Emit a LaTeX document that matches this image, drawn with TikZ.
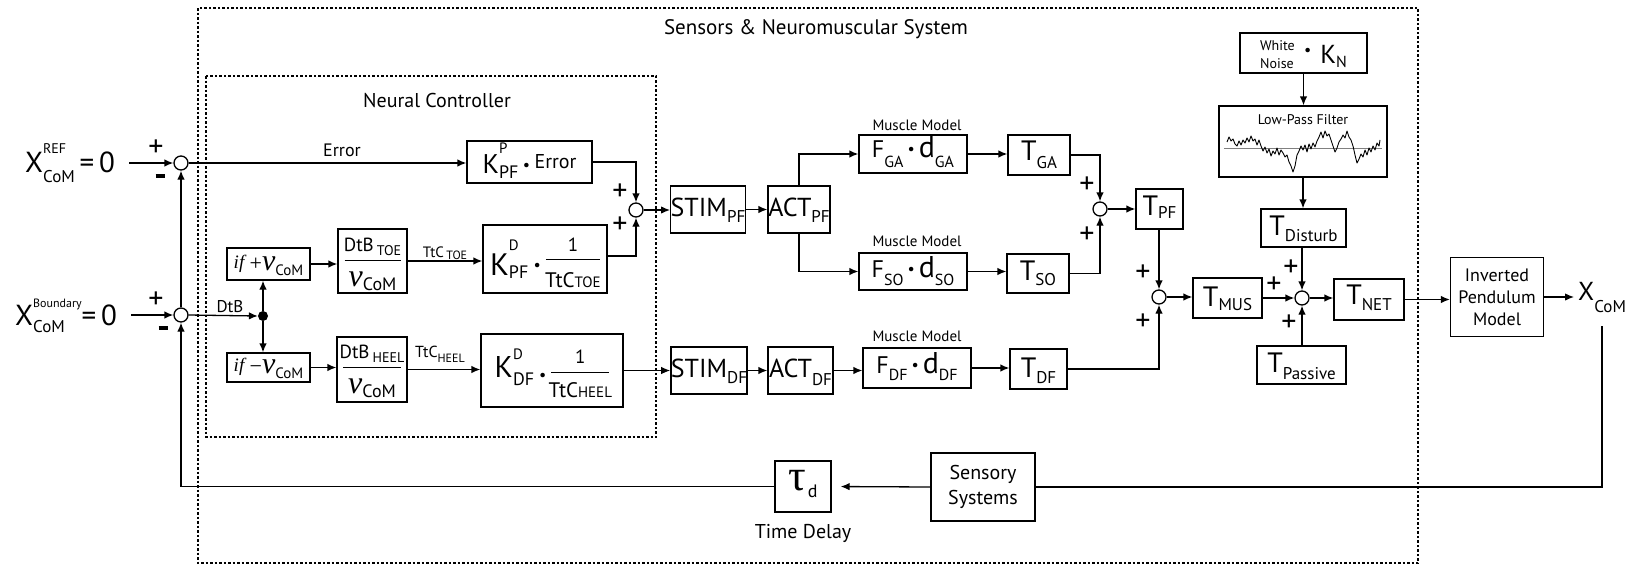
\documentclass[tikz,border=0pt]{standalone}
\usepackage{fontspec}
\setmainfont{PT Sans}
\newfontfamily\vfont{Liberation Serif}
\usetikzlibrary{arrows.meta}
\newcommand{\fs}[1]{\fontsize{#1}{#1}\selectfont}
\newsavebox\supbox
\newsavebox\subbox
% \ks{base}{sup}{sub}{sup raise}{sub drop}
\newcommand{\ks}[5]{#1\sbox\supbox{\raisebox{#4}{#2}}\sbox\subbox{\raisebox{-#5}{#3}}\ifdim\wd\supbox>\wd\subbox\rlap{\usebox\subbox}\usebox\supbox\else\rlap{\usebox\supbox}\usebox\subbox\fi}
\newcommand{\dn}[2]{\raisebox{-#1}{#2}}
% \frbar{width}{num}{den}{num raise}{den raise}{bar raise}
\newcommand{\frbar}[6]{\rlap{\raisebox{#6}{\rule{#1}{1.3pt}}}\rlap{\makebox[#1]{\raisebox{#4}{#2}}}\makebox[#1]{\raisebox{#5}{#3}}}
\newcommand{\bul}[2]{\raisebox{#2}{\fs{#1}\textbullet}}
\tikzset{
  x=1pt, y=-1pt,
  wh/.style 2 args={minimum width=#1pt, minimum height=#2pt},
  blk/.style={draw, line width=1.3pt, inner sep=0pt, text height=0pt, text depth=0pt},
  mblk/.style={draw, line width=1.3pt, inner sep=0pt, align=center},
  sumc/.style={circle, draw, line width=1.3pt, minimum size=14pt, inner sep=0pt},
  arr/.style={line width=1.3pt, -{Latex[length=9pt,width=7.5pt]}},
  ln/.style={line width=1.3pt},
  frame/.style={line width=1.1pt, dash pattern=on 2.5pt off 2pt},
  lbl/.style={inner sep=0pt},
  pm/.style={inner sep=0pt, font=\fs{30}},
}
\begin{document}
\begin{tikzpicture}
\useasboundingbox (0,0) rectangle (1640,565);
% frames
\draw[frame] (198,8) rectangle (1418,563);
\draw[frame] (206,76) rectangle (656,437);
\node[lbl,font=\fs{21}] (title) at (816,29) {Sensors \& Neuromuscular System};
\node[lbl,font=\fs{20}] (nctitle) at (437,100) {Neural Controller};

% inputs
\node[lbl,anchor=base west] (xref) at (25,172) {\fs{29}\ks{X}{\fs{14}REF}{\fs{17}CoM}{19pt}{10pt}\,=\,0};
\node[lbl,anchor=base west] (xbnd) at (15,325) {\fs{29}\ks{X}{\fs{12}Boundary}{\fs{17}CoM}{18pt}{7pt}=\,0};

% summing junctions
\node[sumc] (sum1) at (181,163) {};
\node[sumc] (sum2) at (181,315) {};
\node[sumc] (sum3) at (636,210) {};
\node[sumc] (sum4) at (1100,209) {};
\node[sumc] (sum5) at (1159,297) {};
\node[sumc] (sum6) at (1302,298) {};
\node[circle, fill, inner sep=0pt, minimum size=10pt] (dot) at (263,316) {};

% neural controller blocks
\node[blk,wh={83}{32}] (ifp) at (268.5,264) {\dn{6pt}{\raisebox{2pt}{\vfont\itshape\fs{19}if}\ \ {\vfont\fs{22}+}{\vfont\itshape\fs{30}v}\raisebox{-5pt}{\fs{15}CoM}}};
\node[blk,wh={83}{29}] (ifn) at (268.5,367.5) {\dn{6pt}{\raisebox{2pt}{\vfont\itshape\fs{19}if}\ \ {\vfont\fs{22}\char"2212}{\vfont\itshape\fs{30}v}\raisebox{-5pt}{\fs{15}CoM}}};
\node[blk,wh={69}{64}] (dtoe) at (372.5,261) {\frbar{56pt}{\fs{19}DtB\,\raisebox{-4pt}{\fs{14}TOE}}{{\vfont\itshape\fs{32}v}\raisebox{-4pt}{\fs{18}CoM}}{10pt}{-25pt}{0pt}};
\node[blk,wh={70}{65}] (dheel) at (372,369.5) {\frbar{58pt}{\fs{19}DtB\,\raisebox{-4pt}{\fs{14}HEEL}}{{\vfont\itshape\fs{32}v}\raisebox{-4pt}{\fs{18}CoM}}{11.5pt}{-23.5pt}{1.5pt}};
\node[blk,wh={125}{42}] (kppf) at (529.5,162) {\dn{11pt}{\fs{27}\ks{K}{\fs{15}P}{\fs{18}PF}{20pt}{5pt}\,\bul{16}{3pt}\,\raisebox{5pt}{\fs{20}Error}}};
\node[blk,wh={124}{68}] (kdpf) at (545,259) {\dn{16pt}{\fs{31}\ks{K}{\fs{15}D}{\fs{18}PF}{25pt}{3pt}\,\bul{16}{5pt}\,\frbar{54pt}{\fs{19}1}{\fs{21}TtC\fs{15}TOE}{24pt}{-12pt}{15pt}}};
\node[blk,wh={142}{73}] (kddf) at (552,370.5) {\dn{6.5pt}{\fs{30}\ks{K}{\fs{15}D}{\fs{18}DF}{18pt}{8pt}\,\bul{16}{-3pt}\,\frbar{58pt}{\fs{19}1}{\fs{21}TtC\fs{15}HEEL}{14pt}{-20pt}{4pt}}};

% muscle path
\node[blk,wh={72}{47}] (stimpf) at (708,209.5) {\dn{7pt}{\fs{26}STIM\raisebox{-6pt}{\fs{17}PF}}};
\node[blk,wh={62}{47}] (actpf) at (799,209.5) {\dn{7pt}{\fs{26}ACT\raisebox{-6pt}{\fs{17}PF}}};
\node[blk,wh={72}{47}] (stimdf) at (709,370.5) {\dn{6.5pt}{\fs{26}STIM\raisebox{-6pt}{\fs{17}DF}}};
\node[blk,wh={65}{47}] (actdf) at (800.5,370.5) {\dn{6.5pt}{\fs{26}ACT\raisebox{-8pt}{\fs{17}DF}}};
\node[blk,wh={108}{38}] (fga) at (913,154) {\dn{3pt}{\fs{24}F\raisebox{-10pt}{\fs{16}GA}\,\bul{16}{3pt}\,{\fs{30}d}\raisebox{-10pt}{\fs{16}GA}}};
\node[blk,wh={108}{37}] (fso) at (913,271.5) {\dn{5.5pt}{\fs{24}F\raisebox{-8pt}{\fs{16}SO}\,\bul{16}{3pt}\,{\fs{30}d}\raisebox{-8pt}{\fs{16}SO}}};
\node[blk,wh={108}{40}] (fdf) at (917,368) {\dn{5pt}{\fs{24}F\raisebox{-7pt}{\fs{16}DF}\,\bul{16}{3pt}\,{\fs{30}d}\raisebox{-7pt}{\fs{16}DF}}};
\node[blk,wh={62}{40}] (tga) at (1039,155) {\dn{5pt}{\fs{28}T\raisebox{-8pt}{\fs{17}GA}}};
\node[blk,wh={62}{39}] (tso) at (1038,273.5) {\dn{6.5pt}{\fs{28}T\raisebox{-5pt}{\fs{17}SO}}};
\node[blk,wh={47}{40}] (tpf) at (1159.5,209) {\dn{6pt}{\fs{28}T\raisebox{-3pt}{\fs{17}PF}}};
\node[blk,wh={57}{40}] (tdf) at (1038.5,369) {\dn{8pt}{\fs{28}T\raisebox{-6pt}{\fs{17}DF}}};
\node[blk,wh={69}{40}] (tmus) at (1227.5,298) {\dn{8pt}{\fs{28}T\raisebox{-4pt}{\fs{17}MUS}}};
\node[blk,wh={70}{41}] (tnet) at (1369,299.5) {\dn{4.5pt}{\fs{28}T\raisebox{-6pt}{\fs{17}NET}}};
\node[blk,wh={85}{38}] (tdist) at (1303.5,228) {\dn{7pt}{\fs{28}T\raisebox{-6pt}{\fs{17}Disturb}}};
\node[blk,wh={89}{38}] (tpass) at (1301.5,365) {\dn{7pt}{\fs{28}T\raisebox{-7pt}{\fs{17}Passive}}};

% disturbance
\node[blk,wh={127}{40}] (wn) at (1303.5,53) {{\fs{14}\makebox[37pt][l]{\rlap{\raisebox{3pt}{White}}\raisebox{-15pt}{Noise}}}\hspace{7pt}\bul{16}{-2pt}\hspace{9pt}\raisebox{-10pt}{\fs{26}K\raisebox{-4pt}{\fs{16}N}}};
\node[blk,wh={168}{71}] (lpf) at (1303,141.5) {\raisebox{17.5pt}{\fs{14}Low-Pass Filter}};
\draw[gray, line width=0.8pt] (1224,148) -- (1382,148);
\draw[line width=0.9pt, line join=round] plot coordinates {(1227,142)(1229,137)(1231,141)(1233,139)(1235,144)(1237,146)(1239,141)(1241,145)(1243,140)(1245,143)(1247,138)(1249,142)(1251,136)(1253,141)(1255,139)(1257,145)(1259,140)(1261,146)(1263,151)(1265,147)(1267,153)(1269,149)(1271,156)(1273,151)(1275,154)(1277,148)(1279,155)(1281,150)(1283,153)(1285,157)(1287,155)(1289,162)(1291,166)(1293,172)(1295,166)(1297,155)(1299,151)(1301,146)(1303,150)(1305,145)(1307,152)(1309,144)(1311,149)(1313,143)(1315,147)(1317,141)(1319,137)(1321,132)(1323,138)(1325,131)(1327,136)(1329,134)(1331,140)(1333,146)(1335,152)(1337,148)(1339,142)(1341,139)(1343,135)(1345,138)(1347,131)(1349,137)(1351,140)(1353,146)(1355,155)(1357,163)(1359,159)(1361,154)(1363,157)(1365,150)(1367,155)(1369,148)(1371,152)(1373,146)(1375,150)(1377,143)(1379,146)(1380,140)};

% plant
\node[mblk,wh={93}{79},font=\fontsize{18}{22}\selectfont] (inv) at (1497,297) {Inverted\\Pendulum\\Model};
\node[lbl,anchor=base west] (xcom) at (1578,300) {\fs{26}X\raisebox{-12pt}{\fs{17}CoM}};
\coordinate (xd) at (1602,326);

% feedback
\node[blk,wh={56}{51}] (tau) at (803,486.5) {\dn{4pt}{{\vfont\fs{44}τ}\,\raisebox{-7pt}{\fs{18}d}}};
\node[mblk,wh={104}{68},font=\fontsize{20}{25}\selectfont] (sens) at (983,487) {Sensory\\Systems};
\node[lbl,font=\fs{20}] (tdl) at (803,533) {Time Delay};

% labels
\node[lbl,font=\fs{18}] (err) at (342,150) {Error};
\node[lbl,font=\fs{15}] (mm1) at (917,125) {Muscle Model};
\node[lbl,font=\fs{15}] (mm2) at (917,241) {Muscle Model};
\node[lbl,font=\fs{15}] (mm3) at (917,336) {Muscle Model};
\node[lbl,anchor=base] (ttoe) at (445,257) {\fs{15}TtC\,\raisebox{-2pt}{\fs{12}TOE}};
\node[lbl,anchor=base] (theel) at (440,357) {\fs{16}TtC\raisebox{-5pt}{\fs{12}HEEL}};
\node[lbl,anchor=base] (dtb) at (230,312) {\fs{17}DtB};

% plus / minus
\node[pm] (p1) at (156,148) {+};
\node[lbl] (m1) at (160,176) {\rule{9pt}{3.5pt}};
\node[pm] (p2) at (156,300) {+};
\node[lbl] (m2) at (163,328) {\rule{9pt}{3.5pt}};
\node[pm] (p3a) at (620,192) {+};
\node[pm] (p3b) at (620,225) {+};
\node[pm] (p4a) at (1087,185) {+};
\node[pm] (p4b) at (1087,235) {+};
\node[pm] (p5a) at (1143,273) {+};
\node[pm] (p5b) at (1143,322) {+};
\node[pm] (p6a) at (1274,285) {+};
\node[pm] (p6b) at (1291,268) {+};
\node[pm] (p6c) at (1289,323) {+};

% connectors
\draw[arr,shorten <=14pt] (sum1.west -| xref.east) -- (sum1.west);
\draw[arr,shorten <=14pt] (sum2.west -| xbnd.east) -- (sum2.west);
\draw[arr] (sum1.east) -- (sum1.east -| kppf.west);
\draw[arr] (sum2.east) -- (dot.west);
\draw[arr] (dot.north) -- (dot.north |- ifp.south);
\draw[arr] (dot.south) -- (dot.south |- ifn.north);
\draw[arr] (ifp.east) -- (ifp.east -| dtoe.west);
\draw[arr] (ifn.east) -- (ifn.east -| dheel.west);
\draw[arr] (dtoe.east) -- (dtoe.east -| kdpf.west);
\draw[arr] (dheel.east) -- (dheel.east -| kddf.west);
\draw[arr] (kppf.east) -| (sum3.north);
\draw[arr] ([yshift=3pt]kdpf.east) -| (sum3.south);
\draw[arr] (sum3.east) -- (sum3.east -| stimpf.west);
\draw[arr] (stimpf.east) -- (actpf.west);
\draw[arr] (actpf.north) |- (fga.west);
\draw[arr] (actpf.south) |- (fso.west);
\draw[arr] (fga.east) -- (fga.east -| tga.west);
\draw[arr] (fso.east) -- (fso.east -| tso.west);
\draw[arr] (tga.east) -| (sum4.north);
\draw[arr] (tso.east) -| (sum4.south);
\draw[arr] (sum4.east) -- (sum4.east -| tpf.west);
\draw[arr] (sum5.north |- tpf.south) -- (sum5.north);
\draw[arr] (kddf.east) -- (kddf.east -| stimdf.west);
\draw[arr] (stimdf.east) -- (actdf.west);
\draw[arr] (actdf.east) -- (actdf.east -| fdf.west);
\draw[arr] (fdf.east) -- (fdf.east -| tdf.west);
\draw[arr] (tdf.east) -| (sum5.south);
\draw[arr] (sum5.east) -- (sum5.east -| tmus.west);
\draw[arr] (tmus.east) -- (tmus.east -| sum6.west);
\draw[arr] (sum6.north |- tdist.south) -- (sum6.north);
\draw[arr] (sum6.south |- tpass.north) -- (sum6.south);
\draw[arr] (sum6.east) -- (sum6.east -| tnet.west);
\draw[arr] (tnet.east) -- (tnet.east -| inv.west);
\draw[arr,shorten >=4pt] (inv.east) -- (inv.east -| xcom.west);
\draw[arr] (wn.south) -- (wn.south |- lpf.north);
\draw[arr] (lpf.south) -- (lpf.south |- tdist.north);
\draw[ln] (xd) |- (sens.east);
\draw[arr,shorten >=9pt] (sens.west) -- (tau.east);
\draw[arr] (tau.west) -| (sum2.south);
\draw[arr] (sum2.north) -- (sum1.south);
\end{tikzpicture}
\end{document}
